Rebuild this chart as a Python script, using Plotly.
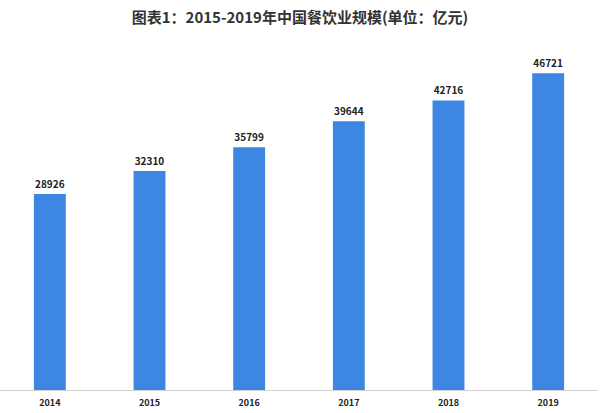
import plotly.graph_objects as go

# Data
years = ["2014", "2015", "2016", "2017", "2018", "2019"]
scale = [28926, 32310, 35799, 39644, 42716, 46721]

font_cjk = "Noto Sans CJK SC, Noto Sans, sans-serif"

fig = go.Figure()
fig.add_trace(go.Bar(
    x=years,
    y=scale,
    marker=dict(color="#3D86E2", line=dict(width=0)),
    text=[str(v) for v in scale],
    textposition="outside",
    textfont=dict(family=font_cjk, size=10, color="#222222", weight="bold"),
    cliponaxis=False,
    width=0.32,
))

fig.update_layout(
    width=600,
    height=413,
    paper_bgcolor="white",
    plot_bgcolor="white",
    margin=dict(l=0, r=2, t=51, b=23, autoexpand=False),
    title=dict(
        text="<b>图表1：2015-2019年中国餐饮业规模(单位：亿元)</b>",
        x=0.5,
        xanchor="center",
        y=0.958,
        yanchor="middle",
        font=dict(family=font_cjk, size=15, color="#333333"),
        automargin=False,
    ),
    showlegend=False,
)

fig.update_xaxes(
    showgrid=False,
    showline=True,
    linecolor="#d0d0d0",
    linewidth=1,
    ticks="",
    ticklabelstandoff=4,
    automargin=False,
    tickfont=dict(family=font_cjk, size=9, color="#222222", weight="bold"),
)
fig.update_yaxes(
    range=[0, 50000],
    visible=False,
    showgrid=False,
    automargin=False,
)

# drop the default page margin so the figure sits at the window's corner
fig.write_html(
    "out.html",
    config={"displayModeBar": False},
    post_script="document.body.style.margin='0';",
)
